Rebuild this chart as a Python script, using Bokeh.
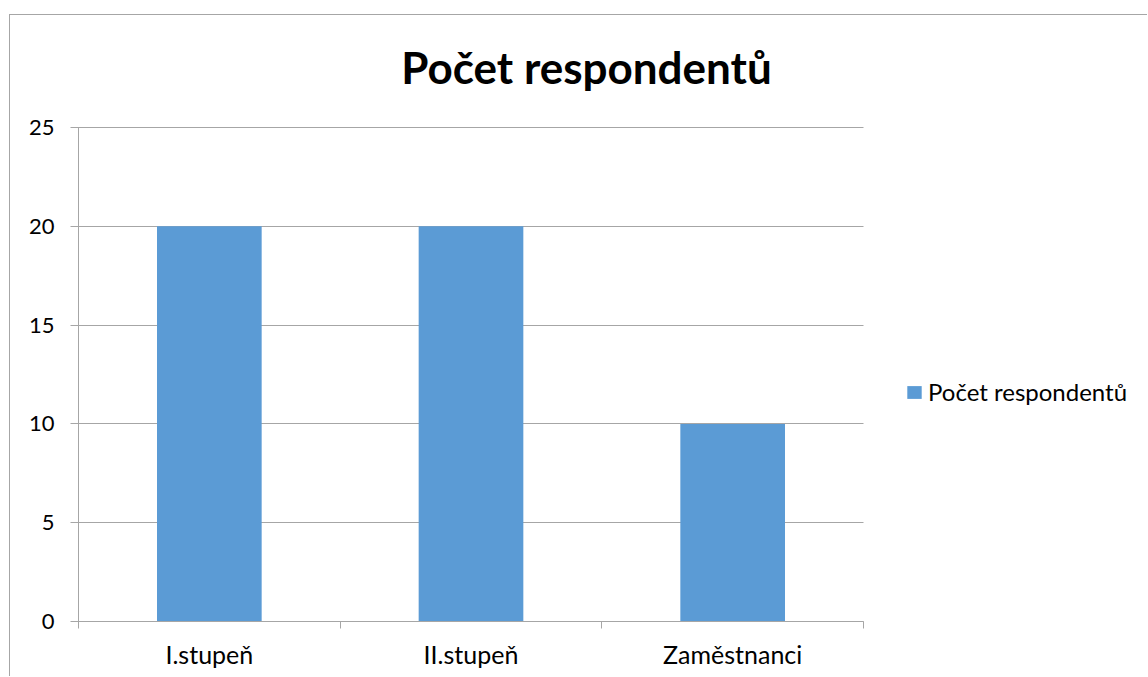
from bokeh.plotting import figure
from bokeh.models import FixedTicker, Legend, LegendItem, Label, ColumnDataSource, Range1d
from bokeh.embed import file_html
from bokeh.resources import INLINE
import numpy as np

categories = ["I.stupeň", "II.stupeň", "Zaměstnanci"]
values = [20, 20, 10]
series_name = "Počet respondentů"
y_ticks = [0, 5, 10, 15, 20, 25]
y_max = 25

FONT = "Lato"
GRID = "#a6a6a6"
BAR = "#5b9bd5"

# layout (pixels within the canvas)
W, H = 1138, 662
PL, PR, PT, PB = 68, 853, 112, 606   # plot area edges
n = len(categories)
sx = n / (PR - PL)
sy = y_max / (PB - PT)
x_start, x_end = -PL * sx, n + (W - PR) * sx
y_start, y_end = -(H - PB) * sy, y_max + PT * sy

xpos = np.arange(n) + 0.5
src = ColumnDataSource(dict(x=xpos, top=values, cat=categories))

p = figure(width=W, height=H, output_backend="svg", toolbar_location=None,
           x_range=Range1d(x_start, x_end), y_range=Range1d(y_start, y_end),
           min_border=0)
p.margin = (14, 0, 0, 9)
p.styles = {"border-left": "1px solid #a6a6a6", "border-top": "1px solid #a6a6a6"}
p.outline_line_color = None
p.background_fill_color = "white"
p.border_fill_color = "white"
p.xgrid.visible = False
p.ygrid.visible = False

r = p.vbar(x="x", top="top", width=0.4, source=src, color=BAR, line_color=None)

# x axis
xa = p.xaxis[0]
xa.fixed_location = 0
xa.bounds = (0, n)
xa.ticker = FixedTicker(ticks=list(xpos), minor_ticks=list(range(n + 1)))
xa.major_label_overrides = {float(x): c for x, c in zip(xpos, categories)}
xa.major_tick_line_color = None
xa.major_tick_out = 0
xa.major_tick_in = 0
xa.minor_tick_out = 7
xa.minor_tick_in = 0
xa.minor_tick_line_color = GRID
xa.axis_line_color = GRID
xa.major_label_text_font = FONT
xa.major_label_text_font_size = "25px"
xa.major_label_text_color = "#000000"
xa.major_label_standoff = 10

# y axis (ticks drawn across the plot area serve as gridlines)
ya = p.yaxis[0]
ya.fixed_location = 0
ya.bounds = (0, y_max)
ya.level = "underlay"
ya.ticker = FixedTicker(ticks=y_ticks)
ya.major_tick_out = 8
ya.major_tick_in = PR - PL
ya.major_tick_line_color = GRID
ya.minor_tick_line_color = None
ya.axis_line_color = GRID
ya.major_label_text_font = FONT
ya.major_label_text_font_size = "22px"
ya.major_label_text_color = "#000000"
ya.major_label_standoff = 16

title = Label(x=x_start + 576 * sx, y=y_end - 51 * sy, text=series_name,
              text_font=FONT, text_font_size="44px", text_font_style="bold",
              text_align="center", text_baseline="middle", text_color="#000000")
p.add_layout(title)

legend = Legend(items=[LegendItem(label=series_name, renderers=[r])],
                location=(895, H - 391), orientation="vertical",
                glyph_width=18, glyph_height=16, label_height=16, label_standoff=5,
                label_text_font=FONT, label_text_font_size="24px", label_text_color="#000000",
                label_text_baseline="middle",
                padding=0, margin=0, border_line_color=None, background_fill_alpha=0)
p.add_layout(legend)

open("out.html", "w").write(file_html(p, INLINE))
